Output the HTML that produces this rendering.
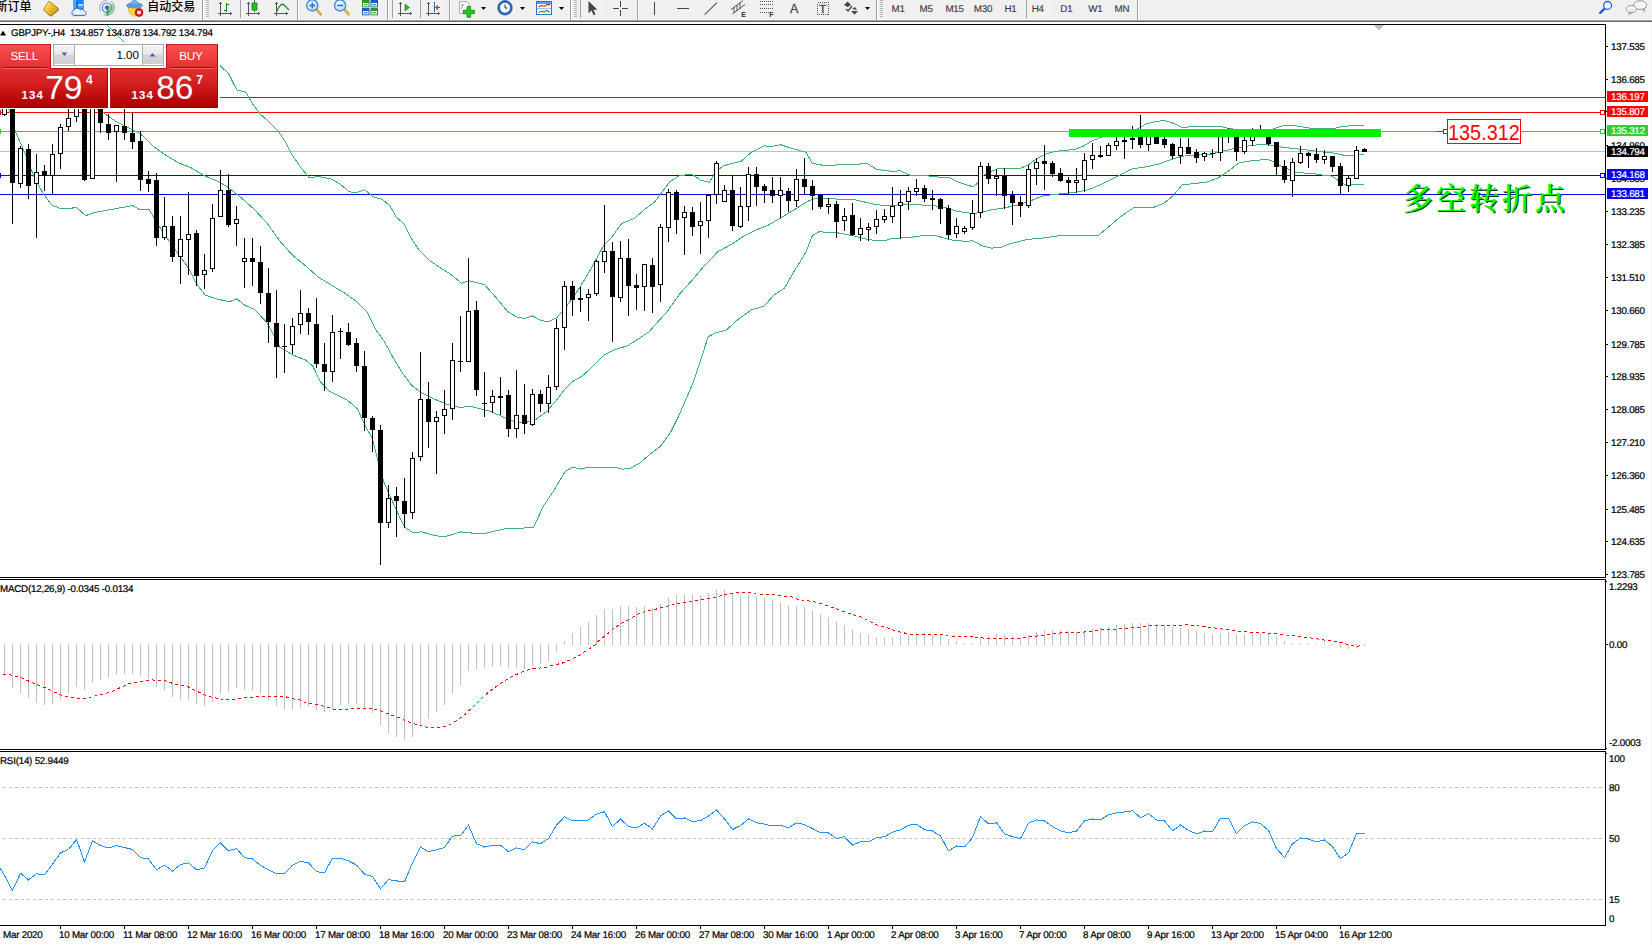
<!DOCTYPE html>
<html lang="zh"><head><meta charset="utf-8"><title>GBPJPY H4</title>
<style>
html,body{margin:0;padding:0}
body{width:1652px;height:945px;position:relative;overflow:hidden;background:#fff;font-family:"Liberation Sans","Noto Sans CJK SC",sans-serif}
#chart{position:absolute;left:0;top:0}
.ax{position:absolute;font-size:9.8px;line-height:12px;height:12px;color:#000;white-space:nowrap;letter-spacing:-0.23px;text-rendering:geometricPrecision;-webkit-text-stroke:0.22px #000}

.tag{position:absolute;left:1607px;width:41px;height:11px;color:#fff;font-size:9.8px;line-height:12px;white-space:nowrap;text-rendering:geometricPrecision}
.tag span{position:absolute;left:4px;top:1px;display:block;letter-spacing:-0.23px;-webkit-text-stroke:0.2px #fff}
#rb{position:absolute;left:1651px;top:22px;width:1px;height:923px;background:#f0f0f0}
#biglbl{position:absolute;left:1447px;top:119px;width:72px;height:23px;border:1px solid #ff0000;background:#fff;color:#ff0000;font-size:22.6px;line-height:23px;text-align:center;white-space:nowrap}
#biglbl span{position:absolute;left:0.3px;top:1px;display:block;transform:scaleX(0.88);transform-origin:0 0}
#cn{position:absolute;left:1403px;top:179px;font-family:"Liberation Serif","Noto Serif CJK SC",serif;font-weight:600;font-size:30px;line-height:40px;letter-spacing:3px;color:#00fa00;white-space:nowrap;text-shadow:1px 1px 0 #063806}
</style></head>
<body>
<svg id="chart" width="1652" height="945" viewBox="0 0 1652 945" shape-rendering="crispEdges">
<defs><clipPath id="mainclip"><rect x="0" y="25" width="1605" height="552"/></clipPath></defs>
<rect x="0" y="97" width="1605" height="1" fill="#ff0000" />
<rect x="0" y="112" width="1605" height="1" fill="#ff0000" />
<rect x="0" y="131" width="1605" height="1" fill="#32cd32" />
<rect x="0" y="151" width="1605" height="1" fill="#c0c0c0" />
<rect x="0" y="175" width="1605" height="1" fill="#0000ff" />
<rect x="0" y="194" width="1605" height="1" fill="#0000ff" />
<g clip-path="url(#mainclip)">
<polyline points="107.5,25.5 116.5,34.5 124.5,42.5 220.3,65.9 228.5,73.5 236.9,90.1 245.8,92.1 252.6,104.1 260.3,114.2 269.1,121.9 278.0,130.8 285.7,142.2 292.0,154.9 300.9,167.6 309.3,177.8 318.7,176.5 331.4,179.1 340.3,184.2 349.2,191.8 356.9,192.5 364.5,189.7 373.4,196.9 382.3,199.4 389.9,205.8 396.3,217.2 403.9,223.6 411.5,238.8 419.2,250.3 429.3,260.4 440.8,268.1 450.9,274.4 461.5,283.2 469.2,280.7 484.4,284.5 494.6,295.9 507.3,311.2 517.5,317.5 525.1,318.3 532.2,315.8 540.3,320.1 548.0,321.9 556.9,317.5 565.8,307.4 575.9,293.4 588.6,273.1 596.3,259.1 603.9,245.1 611.5,237.5 621.7,223.5 634.4,218.4 644.6,209.5 654.8,201.9 662.4,191.7 670.0,181.5 680.2,175.2 692.9,174.7 700.5,180.3 709.4,182.3 715.8,171.4 723.4,165.8 741.2,161.2 751.4,152.3 764.1,145.9 771.7,146.4 780.6,144.7 792.1,148.5 800.5,150.8 805.9,152.3 812.3,163.2 824.1,165.5 845.9,164.6 867.7,163.7 876.8,169.5 891.3,171.3 900.4,170.8 909.5,175.0 922.2,175.0 934.9,176.8 949.4,177.7 958.5,182.2 973.0,186.8 978.5,182.2 982.1,175.9 989.4,172.2 998.4,168.6 1018.4,169.0 1027.5,165.5 1036.6,158.6 1045.7,154.1 1054.7,151.4 1074.7,149.5 1083.8,145.9 1092.9,140.5 1100.1,137.7 1110.5,134.5 1125.5,132.0 1136.8,129.5 1145.9,124.1 1155.0,121.7 1164.0,120.5 1173.1,123.2 1182.2,127.7 1189.5,126.8 1222.1,126.8 1229.4,128.6 1240.5,130.0 1260.5,130.5 1273.0,129.2 1282.1,125.9 1294.8,125.6 1303.9,127.2 1314.7,129.0 1332.9,128.6 1343.8,126.3 1352.9,125.6 1364.3,125.6" fill="none" stroke="#3cb371" stroke-width="1" />
<polyline points="60.5,85.5 102.2,111.9 114.9,120.8 127.6,127.2 140.3,133.6 153.1,146.3 165.8,155.2 178.5,162.8 191.2,167.9 203.9,175.5 219.2,181.9 229.3,188.2 242.0,198.4 254.8,209.8 267.5,223.8 280.2,241.6 292.9,255.6 305.6,265.8 318.3,277.2 331.0,284.8 343.8,292.5 356.5,301.4 366.6,311.5 375.5,329.3 383.2,340.0 385.9,344.5 393.6,358.5 401.2,371.2 411.4,385.2 421.5,392.8 434.2,399.1 446.9,404.2 459.7,407.5 469.8,406.3 480.0,408.8 490.2,411.4 500.3,415.7 508.0,419.5 515.6,422.0 525.8,422.5 535.9,419.5 546.1,411.9 556.3,400.4 563.9,390.3 572.8,381.4 581.7,376.3 591.9,367.4 604.6,354.7 614.8,349.6 627.5,345.8 637.6,339.4 649.1,331.8 654.8,325.2 667.5,311.2 680.2,293.4 692.9,279.4 705.6,264.2 718.3,251.4 731.0,244.6 743.8,236.2 756.5,229.8 769.2,224.7 781.9,217.1 794.6,209.5 800.5,205.8 809.6,200.4 818.7,197.7 836.8,199.1 855.0,199.8 873.1,204.0 885.8,205.8 902.2,204.6 918.5,204.9 931.2,205.3 945.8,207.6 956.7,211.3 973.0,213.6 982.1,212.2 991.2,210.0 1005.7,207.6 1018.4,204.9 1029.3,201.3 1042.0,196.2 1054.7,194.4 1072.9,192.6 1085.6,190.4 1091.4,188.6 1104.1,183.1 1116.8,176.8 1131.3,169.1 1145.9,166.8 1158.6,164.1 1171.3,159.5 1182.2,156.2 1196.7,155.0 1211.2,154.1 1225.8,150.4 1236.7,148.1 1251.2,145.5 1263.9,144.1 1273.0,145.5 1282.1,147.2 1294.8,148.6 1307.5,150.1 1322.0,151.9 1334.7,153.2 1343.8,155.3 1351.1,155.9 1358.3,155.0 1364.3,154.6" fill="none" stroke="#3cb371" stroke-width="1" />
<polyline points="5.5,100.5 10.0,112.5 15.8,132.3 25.9,155.2 33.5,175.5 43.7,194.6 51.4,204.7 60.3,208.6 76.8,207.8 85.7,215.7 94.6,212.4 112.4,209.3 132.7,205.5 139.1,209.3 149.2,209.8 155.6,220.0 163.2,232.7 178.5,254.3 188.7,268.3 196.3,283.6 205.2,295.0 216.6,298.8 229.3,301.9 237.0,298.8 244.6,305.2 254.8,309.5 262.4,317.9 267.2,323.0 279.9,347.2 292.5,354.8 305.3,359.9 312.9,366.2 320.5,382.0 329.4,391.2 347.2,400.1 357.5,409.0 364.9,425.3 372.4,438.6 378.3,462.4 384.2,483.1 391.6,499.4 399.0,515.7 404.9,527.5 412.6,532.6 421.5,531.9 431.7,534.7 443.1,537.0 452.0,534.7 460.9,531.9 472.4,533.1 483.8,533.9 495.3,530.9 505.4,528.8 518.1,528.3 533.4,527.5 543.6,505.9 553.7,490.7 565.2,471.6 572.8,467.0 580.4,469.1 589.3,467.0 614.8,467.0 622.4,469.1 630.0,468.6 640.2,462.7 650.4,453.8 660.5,446.2 670.7,432.2 678.3,416.9 686.0,399.1 693.6,381.4 701.2,358.5 708.2,336.6 715.8,332.8 726.0,330.3 738.7,318.8 751.4,309.9 764.1,306.1 774.3,294.7 784.4,288.3 794.6,270.5 800.5,261.2 805.9,252.1 812.3,235.8 818.7,231.8 836.8,232.7 851.3,235.4 869.5,239.8 884.0,240.9 891.3,238.5 909.5,237.6 924.0,235.4 936.7,235.8 949.4,239.8 963.9,241.2 973.0,240.9 982.1,245.8 991.2,248.1 1000.2,247.6 1009.3,244.0 1027.5,239.4 1042.0,238.2 1058.4,235.8 1080.5,235.8 1098.7,235.2 1107.7,227.6 1120.4,216.7 1133.2,208.0 1153.1,207.6 1164.0,203.1 1173.1,195.8 1182.2,184.9 1193.1,183.7 1207.6,181.9 1218.5,177.7 1229.4,170.4 1238.5,163.1 1247.6,161.3 1258.5,160.1 1267.5,159.5 1273.0,161.3 1282.1,166.8 1291.1,170.4 1296.6,172.6 1312.9,173.5 1322.0,175.0 1329.3,175.0 1334.7,177.7 1340.2,182.2 1345.6,184.9 1364.3,184.6" fill="none" stroke="#3cb371" stroke-width="1" />
<rect x="4" y="100" width="1" height="16" fill="#000"/>
<rect x="2" y="100" width="5" height="15" fill="#000"/>
<rect x="3" y="101" width="3" height="13" fill="#fff"/>
<rect x="12" y="100" width="1" height="124" fill="#000"/>
<rect x="10" y="100" width="5" height="83" fill="#000"/>
<rect x="20" y="146" width="1" height="42" fill="#000"/>
<rect x="18" y="148" width="5" height="36" fill="#000"/>
<rect x="19" y="149" width="3" height="34" fill="#fff"/>
<rect x="28" y="144" width="1" height="55" fill="#000"/>
<rect x="26" y="149" width="5" height="37" fill="#000"/>
<rect x="36" y="154" width="1" height="84" fill="#000"/>
<rect x="34" y="172" width="5" height="12" fill="#000"/>
<rect x="35" y="173" width="3" height="10" fill="#fff"/>
<rect x="44" y="165" width="1" height="26" fill="#000"/>
<rect x="42" y="171" width="5" height="5" fill="#000"/>
<rect x="52" y="144" width="1" height="50" fill="#000"/>
<rect x="50" y="154" width="5" height="22" fill="#000"/>
<rect x="51" y="155" width="3" height="20" fill="#fff"/>
<rect x="60" y="124" width="1" height="45" fill="#000"/>
<rect x="58" y="127" width="5" height="27" fill="#000"/>
<rect x="59" y="128" width="3" height="25" fill="#fff"/>
<rect x="68" y="108" width="1" height="23" fill="#000"/>
<rect x="66" y="118" width="5" height="9" fill="#000"/>
<rect x="67" y="119" width="3" height="7" fill="#fff"/>
<rect x="76" y="100" width="1" height="22" fill="#000"/>
<rect x="74" y="100" width="5" height="17" fill="#000"/>
<rect x="75" y="101" width="3" height="15" fill="#fff"/>
<rect x="84" y="100" width="1" height="81" fill="#000"/>
<rect x="82" y="100" width="5" height="80" fill="#000"/>
<rect x="92" y="100" width="1" height="79" fill="#000"/>
<rect x="90" y="100" width="5" height="79" fill="#000"/>
<rect x="91" y="101" width="3" height="77" fill="#fff"/>
<rect x="100" y="100" width="1" height="33" fill="#000"/>
<rect x="98" y="100" width="5" height="23" fill="#000"/>
<rect x="108" y="114" width="1" height="26" fill="#000"/>
<rect x="106" y="124" width="5" height="9" fill="#000"/>
<rect x="116" y="125" width="1" height="57" fill="#000"/>
<rect x="114" y="125" width="5" height="7" fill="#000"/>
<rect x="115" y="126" width="3" height="5" fill="#fff"/>
<rect x="124" y="108" width="1" height="32" fill="#000"/>
<rect x="122" y="126" width="5" height="7" fill="#000"/>
<rect x="132" y="112" width="1" height="37" fill="#000"/>
<rect x="130" y="133" width="5" height="9" fill="#000"/>
<rect x="140" y="131" width="1" height="60" fill="#000"/>
<rect x="138" y="141" width="5" height="39" fill="#000"/>
<rect x="148" y="171" width="1" height="21" fill="#000"/>
<rect x="146" y="179" width="5" height="5" fill="#000"/>
<rect x="156" y="173" width="1" height="73" fill="#000"/>
<rect x="154" y="180" width="5" height="58" fill="#000"/>
<rect x="164" y="197" width="1" height="43" fill="#000"/>
<rect x="162" y="226" width="5" height="12" fill="#000"/>
<rect x="163" y="227" width="3" height="10" fill="#fff"/>
<rect x="172" y="216" width="1" height="46" fill="#000"/>
<rect x="170" y="226" width="5" height="31" fill="#000"/>
<rect x="180" y="216" width="1" height="68" fill="#000"/>
<rect x="178" y="239" width="5" height="18" fill="#000"/>
<rect x="179" y="240" width="3" height="16" fill="#fff"/>
<rect x="188" y="192" width="1" height="83" fill="#000"/>
<rect x="186" y="234" width="5" height="6" fill="#000"/>
<rect x="187" y="235" width="3" height="4" fill="#fff"/>
<rect x="196" y="230" width="1" height="56" fill="#000"/>
<rect x="194" y="233" width="5" height="43" fill="#000"/>
<rect x="204" y="254" width="1" height="35" fill="#000"/>
<rect x="202" y="270" width="5" height="5" fill="#000"/>
<rect x="203" y="271" width="3" height="3" fill="#fff"/>
<rect x="212" y="204" width="1" height="68" fill="#000"/>
<rect x="210" y="218" width="5" height="51" fill="#000"/>
<rect x="211" y="219" width="3" height="49" fill="#fff"/>
<rect x="220" y="170" width="1" height="47" fill="#000"/>
<rect x="218" y="190" width="5" height="27" fill="#000"/>
<rect x="219" y="191" width="3" height="25" fill="#fff"/>
<rect x="228" y="174" width="1" height="53" fill="#000"/>
<rect x="226" y="190" width="5" height="35" fill="#000"/>
<rect x="236" y="206" width="1" height="40" fill="#000"/>
<rect x="234" y="219" width="5" height="5" fill="#000"/>
<rect x="235" y="220" width="3" height="3" fill="#fff"/>
<rect x="244" y="238" width="1" height="50" fill="#000"/>
<rect x="242" y="258" width="5" height="4" fill="#000"/>
<rect x="243" y="259" width="3" height="2" fill="#fff"/>
<rect x="252" y="238" width="1" height="48" fill="#000"/>
<rect x="250" y="258" width="5" height="4" fill="#000"/>
<rect x="260" y="246" width="1" height="58" fill="#000"/>
<rect x="258" y="262" width="5" height="31" fill="#000"/>
<rect x="268" y="268" width="1" height="75" fill="#000"/>
<rect x="266" y="293" width="5" height="29" fill="#000"/>
<rect x="276" y="290" width="1" height="88" fill="#000"/>
<rect x="274" y="323" width="5" height="24" fill="#000"/>
<rect x="284" y="324" width="1" height="49" fill="#000"/>
<rect x="282" y="346" width="5" height="1" fill="#000"/>
<rect x="292" y="318" width="1" height="36" fill="#000"/>
<rect x="290" y="326" width="5" height="19" fill="#000"/>
<rect x="291" y="327" width="3" height="17" fill="#fff"/>
<rect x="300" y="290" width="1" height="44" fill="#000"/>
<rect x="298" y="313" width="5" height="12" fill="#000"/>
<rect x="299" y="314" width="3" height="10" fill="#fff"/>
<rect x="308" y="308" width="1" height="27" fill="#000"/>
<rect x="306" y="313" width="5" height="9" fill="#000"/>
<rect x="316" y="298" width="1" height="70" fill="#000"/>
<rect x="314" y="324" width="5" height="40" fill="#000"/>
<rect x="324" y="343" width="1" height="48" fill="#000"/>
<rect x="322" y="364" width="5" height="8" fill="#000"/>
<rect x="332" y="315" width="1" height="67" fill="#000"/>
<rect x="330" y="332" width="5" height="40" fill="#000"/>
<rect x="331" y="333" width="3" height="38" fill="#fff"/>
<rect x="340" y="328" width="1" height="31" fill="#000"/>
<rect x="338" y="331" width="5" height="1" fill="#000"/>
<rect x="348" y="323" width="1" height="23" fill="#000"/>
<rect x="346" y="332" width="5" height="13" fill="#000"/>
<rect x="356" y="338" width="1" height="34" fill="#000"/>
<rect x="354" y="343" width="5" height="23" fill="#000"/>
<rect x="364" y="351" width="1" height="80" fill="#000"/>
<rect x="362" y="366" width="5" height="52" fill="#000"/>
<rect x="372" y="416" width="1" height="36" fill="#000"/>
<rect x="370" y="418" width="5" height="12" fill="#000"/>
<rect x="380" y="425" width="1" height="140" fill="#000"/>
<rect x="378" y="430" width="5" height="93" fill="#000"/>
<rect x="388" y="485" width="1" height="43" fill="#000"/>
<rect x="386" y="498" width="5" height="25" fill="#000"/>
<rect x="387" y="499" width="3" height="23" fill="#fff"/>
<rect x="396" y="487" width="1" height="50" fill="#000"/>
<rect x="394" y="496" width="5" height="5" fill="#000"/>
<rect x="404" y="478" width="1" height="50" fill="#000"/>
<rect x="402" y="501" width="5" height="13" fill="#000"/>
<rect x="412" y="452" width="1" height="67" fill="#000"/>
<rect x="410" y="458" width="5" height="55" fill="#000"/>
<rect x="411" y="459" width="3" height="53" fill="#fff"/>
<rect x="420" y="352" width="1" height="109" fill="#000"/>
<rect x="418" y="399" width="5" height="58" fill="#000"/>
<rect x="419" y="400" width="3" height="56" fill="#fff"/>
<rect x="428" y="382" width="1" height="66" fill="#000"/>
<rect x="426" y="399" width="5" height="23" fill="#000"/>
<rect x="436" y="411" width="1" height="63" fill="#000"/>
<rect x="434" y="417" width="5" height="5" fill="#000"/>
<rect x="435" y="418" width="3" height="3" fill="#fff"/>
<rect x="444" y="390" width="1" height="44" fill="#000"/>
<rect x="442" y="409" width="5" height="7" fill="#000"/>
<rect x="443" y="410" width="3" height="5" fill="#fff"/>
<rect x="452" y="343" width="1" height="77" fill="#000"/>
<rect x="450" y="360" width="5" height="49" fill="#000"/>
<rect x="451" y="361" width="3" height="47" fill="#fff"/>
<rect x="460" y="316" width="1" height="56" fill="#000"/>
<rect x="458" y="361" width="5" height="1" fill="#000"/>
<rect x="468" y="258" width="1" height="104" fill="#000"/>
<rect x="466" y="311" width="5" height="51" fill="#000"/>
<rect x="467" y="312" width="3" height="49" fill="#fff"/>
<rect x="476" y="301" width="1" height="95" fill="#000"/>
<rect x="474" y="310" width="5" height="80" fill="#000"/>
<rect x="484" y="372" width="1" height="45" fill="#000"/>
<rect x="482" y="403" width="5" height="1" fill="#000"/>
<rect x="492" y="390" width="1" height="23" fill="#000"/>
<rect x="490" y="396" width="5" height="7" fill="#000"/>
<rect x="491" y="397" width="3" height="5" fill="#fff"/>
<rect x="500" y="377" width="1" height="38" fill="#000"/>
<rect x="498" y="396" width="5" height="2" fill="#000"/>
<rect x="508" y="390" width="1" height="47" fill="#000"/>
<rect x="506" y="395" width="5" height="34" fill="#000"/>
<rect x="516" y="370" width="1" height="68" fill="#000"/>
<rect x="514" y="415" width="5" height="14" fill="#000"/>
<rect x="515" y="416" width="3" height="12" fill="#fff"/>
<rect x="524" y="384" width="1" height="50" fill="#000"/>
<rect x="522" y="415" width="5" height="9" fill="#000"/>
<rect x="532" y="389" width="1" height="37" fill="#000"/>
<rect x="530" y="394" width="5" height="31" fill="#000"/>
<rect x="531" y="395" width="3" height="29" fill="#fff"/>
<rect x="540" y="390" width="1" height="22" fill="#000"/>
<rect x="538" y="394" width="5" height="10" fill="#000"/>
<rect x="548" y="375" width="1" height="38" fill="#000"/>
<rect x="546" y="387" width="5" height="17" fill="#000"/>
<rect x="547" y="388" width="3" height="15" fill="#fff"/>
<rect x="556" y="319" width="1" height="71" fill="#000"/>
<rect x="554" y="328" width="5" height="59" fill="#000"/>
<rect x="555" y="329" width="3" height="57" fill="#fff"/>
<rect x="564" y="281" width="1" height="69" fill="#000"/>
<rect x="562" y="286" width="5" height="42" fill="#000"/>
<rect x="563" y="287" width="3" height="40" fill="#fff"/>
<rect x="572" y="281" width="1" height="35" fill="#000"/>
<rect x="570" y="286" width="5" height="14" fill="#000"/>
<rect x="580" y="287" width="1" height="25" fill="#000"/>
<rect x="578" y="298" width="5" height="2" fill="#000"/>
<rect x="588" y="289" width="1" height="32" fill="#000"/>
<rect x="586" y="294" width="5" height="4" fill="#000"/>
<rect x="587" y="295" width="3" height="2" fill="#fff"/>
<rect x="596" y="260" width="1" height="36" fill="#000"/>
<rect x="594" y="261" width="5" height="33" fill="#000"/>
<rect x="595" y="262" width="3" height="31" fill="#fff"/>
<rect x="604" y="205" width="1" height="68" fill="#000"/>
<rect x="602" y="251" width="5" height="11" fill="#000"/>
<rect x="603" y="252" width="3" height="9" fill="#fff"/>
<rect x="612" y="242" width="1" height="100" fill="#000"/>
<rect x="610" y="251" width="5" height="46" fill="#000"/>
<rect x="620" y="241" width="1" height="61" fill="#000"/>
<rect x="618" y="258" width="5" height="40" fill="#000"/>
<rect x="619" y="259" width="3" height="38" fill="#fff"/>
<rect x="628" y="239" width="1" height="77" fill="#000"/>
<rect x="626" y="258" width="5" height="28" fill="#000"/>
<rect x="636" y="274" width="1" height="36" fill="#000"/>
<rect x="634" y="285" width="5" height="3" fill="#000"/>
<rect x="644" y="264" width="1" height="47" fill="#000"/>
<rect x="642" y="264" width="5" height="23" fill="#000"/>
<rect x="643" y="265" width="3" height="21" fill="#fff"/>
<rect x="652" y="258" width="1" height="55" fill="#000"/>
<rect x="650" y="265" width="5" height="22" fill="#000"/>
<rect x="660" y="224" width="1" height="78" fill="#000"/>
<rect x="658" y="227" width="5" height="58" fill="#000"/>
<rect x="659" y="228" width="3" height="56" fill="#fff"/>
<rect x="668" y="189" width="1" height="53" fill="#000"/>
<rect x="666" y="192" width="5" height="36" fill="#000"/>
<rect x="667" y="193" width="3" height="34" fill="#fff"/>
<rect x="676" y="190" width="1" height="44" fill="#000"/>
<rect x="674" y="192" width="5" height="28" fill="#000"/>
<rect x="684" y="206" width="1" height="49" fill="#000"/>
<rect x="682" y="212" width="5" height="6" fill="#000"/>
<rect x="683" y="213" width="3" height="4" fill="#fff"/>
<rect x="692" y="207" width="1" height="29" fill="#000"/>
<rect x="690" y="212" width="5" height="15" fill="#000"/>
<rect x="700" y="202" width="1" height="52" fill="#000"/>
<rect x="698" y="221" width="5" height="5" fill="#000"/>
<rect x="699" y="222" width="3" height="3" fill="#fff"/>
<rect x="708" y="194" width="1" height="44" fill="#000"/>
<rect x="706" y="195" width="5" height="26" fill="#000"/>
<rect x="707" y="196" width="3" height="24" fill="#fff"/>
<rect x="716" y="161" width="1" height="43" fill="#000"/>
<rect x="714" y="163" width="5" height="32" fill="#000"/>
<rect x="715" y="164" width="3" height="30" fill="#fff"/>
<rect x="724" y="185" width="1" height="17" fill="#000"/>
<rect x="722" y="190" width="5" height="12" fill="#000"/>
<rect x="723" y="191" width="3" height="10" fill="#fff"/>
<rect x="732" y="175" width="1" height="56" fill="#000"/>
<rect x="730" y="190" width="5" height="36" fill="#000"/>
<rect x="740" y="187" width="1" height="41" fill="#000"/>
<rect x="738" y="206" width="5" height="21" fill="#000"/>
<rect x="739" y="207" width="3" height="19" fill="#fff"/>
<rect x="748" y="167" width="1" height="54" fill="#000"/>
<rect x="746" y="174" width="5" height="33" fill="#000"/>
<rect x="747" y="175" width="3" height="31" fill="#fff"/>
<rect x="756" y="167" width="1" height="39" fill="#000"/>
<rect x="754" y="174" width="5" height="13" fill="#000"/>
<rect x="764" y="184" width="1" height="19" fill="#000"/>
<rect x="762" y="186" width="5" height="5" fill="#000"/>
<rect x="772" y="177" width="1" height="26" fill="#000"/>
<rect x="770" y="190" width="5" height="6" fill="#000"/>
<rect x="780" y="177" width="1" height="41" fill="#000"/>
<rect x="778" y="190" width="5" height="6" fill="#000"/>
<rect x="779" y="191" width="3" height="4" fill="#fff"/>
<rect x="788" y="188" width="1" height="24" fill="#000"/>
<rect x="786" y="191" width="5" height="10" fill="#000"/>
<rect x="796" y="169" width="1" height="38" fill="#000"/>
<rect x="794" y="179" width="5" height="22" fill="#000"/>
<rect x="795" y="180" width="3" height="20" fill="#fff"/>
<rect x="804" y="158" width="1" height="37" fill="#000"/>
<rect x="802" y="179" width="5" height="8" fill="#000"/>
<rect x="812" y="180" width="1" height="30" fill="#000"/>
<rect x="810" y="186" width="5" height="10" fill="#000"/>
<rect x="820" y="194" width="1" height="15" fill="#000"/>
<rect x="818" y="195" width="5" height="12" fill="#000"/>
<rect x="828" y="198" width="1" height="16" fill="#000"/>
<rect x="826" y="204" width="5" height="3" fill="#000"/>
<rect x="827" y="205" width="3" height="1" fill="#fff"/>
<rect x="836" y="201" width="1" height="37" fill="#000"/>
<rect x="834" y="204" width="5" height="18" fill="#000"/>
<rect x="844" y="208" width="1" height="23" fill="#000"/>
<rect x="842" y="216" width="5" height="5" fill="#000"/>
<rect x="843" y="217" width="3" height="3" fill="#fff"/>
<rect x="852" y="203" width="1" height="33" fill="#000"/>
<rect x="850" y="215" width="5" height="20" fill="#000"/>
<rect x="860" y="218" width="1" height="23" fill="#000"/>
<rect x="858" y="228" width="5" height="7" fill="#000"/>
<rect x="859" y="229" width="3" height="5" fill="#fff"/>
<rect x="868" y="223" width="1" height="18" fill="#000"/>
<rect x="866" y="227" width="5" height="3" fill="#000"/>
<rect x="867" y="228" width="3" height="1" fill="#fff"/>
<rect x="876" y="210" width="1" height="24" fill="#000"/>
<rect x="874" y="219" width="5" height="8" fill="#000"/>
<rect x="875" y="220" width="3" height="6" fill="#fff"/>
<rect x="884" y="209" width="1" height="14" fill="#000"/>
<rect x="882" y="216" width="5" height="4" fill="#000"/>
<rect x="883" y="217" width="3" height="2" fill="#fff"/>
<rect x="892" y="187" width="1" height="36" fill="#000"/>
<rect x="890" y="206" width="5" height="11" fill="#000"/>
<rect x="891" y="207" width="3" height="9" fill="#fff"/>
<rect x="900" y="190" width="1" height="49" fill="#000"/>
<rect x="898" y="202" width="5" height="4" fill="#000"/>
<rect x="899" y="203" width="3" height="2" fill="#fff"/>
<rect x="908" y="187" width="1" height="23" fill="#000"/>
<rect x="906" y="191" width="5" height="11" fill="#000"/>
<rect x="907" y="192" width="3" height="9" fill="#fff"/>
<rect x="916" y="179" width="1" height="17" fill="#000"/>
<rect x="914" y="188" width="5" height="4" fill="#000"/>
<rect x="915" y="189" width="3" height="2" fill="#fff"/>
<rect x="924" y="185" width="1" height="17" fill="#000"/>
<rect x="922" y="188" width="5" height="11" fill="#000"/>
<rect x="932" y="190" width="1" height="20" fill="#000"/>
<rect x="930" y="198" width="5" height="2" fill="#000"/>
<rect x="940" y="198" width="1" height="26" fill="#000"/>
<rect x="938" y="199" width="5" height="10" fill="#000"/>
<rect x="948" y="205" width="1" height="34" fill="#000"/>
<rect x="946" y="208" width="5" height="27" fill="#000"/>
<rect x="956" y="218" width="1" height="20" fill="#000"/>
<rect x="954" y="226" width="5" height="8" fill="#000"/>
<rect x="955" y="227" width="3" height="6" fill="#fff"/>
<rect x="964" y="226" width="1" height="8" fill="#000"/>
<rect x="962" y="228" width="5" height="4" fill="#000"/>
<rect x="963" y="229" width="3" height="2" fill="#fff"/>
<rect x="972" y="200" width="1" height="30" fill="#000"/>
<rect x="970" y="213" width="5" height="15" fill="#000"/>
<rect x="971" y="214" width="3" height="13" fill="#fff"/>
<rect x="980" y="162" width="1" height="56" fill="#000"/>
<rect x="978" y="166" width="5" height="47" fill="#000"/>
<rect x="979" y="167" width="3" height="45" fill="#fff"/>
<rect x="988" y="163" width="1" height="21" fill="#000"/>
<rect x="986" y="166" width="5" height="13" fill="#000"/>
<rect x="996" y="169" width="1" height="27" fill="#000"/>
<rect x="994" y="176" width="5" height="3" fill="#000"/>
<rect x="995" y="177" width="3" height="1" fill="#fff"/>
<rect x="1004" y="168" width="1" height="41" fill="#000"/>
<rect x="1002" y="176" width="5" height="20" fill="#000"/>
<rect x="1012" y="191" width="1" height="34" fill="#000"/>
<rect x="1010" y="195" width="5" height="8" fill="#000"/>
<rect x="1020" y="196" width="1" height="21" fill="#000"/>
<rect x="1018" y="202" width="5" height="4" fill="#000"/>
<rect x="1028" y="165" width="1" height="43" fill="#000"/>
<rect x="1026" y="169" width="5" height="37" fill="#000"/>
<rect x="1027" y="170" width="3" height="35" fill="#fff"/>
<rect x="1036" y="158" width="1" height="27" fill="#000"/>
<rect x="1034" y="162" width="5" height="7" fill="#000"/>
<rect x="1035" y="163" width="3" height="5" fill="#fff"/>
<rect x="1044" y="145" width="1" height="45" fill="#000"/>
<rect x="1042" y="161" width="5" height="3" fill="#000"/>
<rect x="1052" y="161" width="1" height="16" fill="#000"/>
<rect x="1050" y="163" width="5" height="11" fill="#000"/>
<rect x="1060" y="168" width="1" height="14" fill="#000"/>
<rect x="1058" y="173" width="5" height="8" fill="#000"/>
<rect x="1068" y="177" width="1" height="18" fill="#000"/>
<rect x="1066" y="180" width="5" height="3" fill="#000"/>
<rect x="1076" y="168" width="1" height="25" fill="#000"/>
<rect x="1074" y="180" width="5" height="3" fill="#000"/>
<rect x="1075" y="181" width="3" height="1" fill="#fff"/>
<rect x="1084" y="153" width="1" height="39" fill="#000"/>
<rect x="1082" y="160" width="5" height="20" fill="#000"/>
<rect x="1083" y="161" width="3" height="18" fill="#fff"/>
<rect x="1092" y="143" width="1" height="26" fill="#000"/>
<rect x="1090" y="155" width="5" height="5" fill="#000"/>
<rect x="1091" y="156" width="3" height="3" fill="#fff"/>
<rect x="1100" y="146" width="1" height="12" fill="#000"/>
<rect x="1098" y="155" width="5" height="2" fill="#000"/>
<rect x="1108" y="143" width="1" height="13" fill="#000"/>
<rect x="1106" y="145" width="5" height="11" fill="#000"/>
<rect x="1107" y="146" width="3" height="9" fill="#fff"/>
<rect x="1116" y="133" width="1" height="17" fill="#000"/>
<rect x="1114" y="141" width="5" height="5" fill="#000"/>
<rect x="1115" y="142" width="3" height="3" fill="#fff"/>
<rect x="1124" y="133" width="1" height="26" fill="#000"/>
<rect x="1122" y="140" width="5" height="2" fill="#000"/>
<rect x="1132" y="126" width="1" height="23" fill="#000"/>
<rect x="1130" y="138" width="5" height="2" fill="#000"/>
<rect x="1140" y="115" width="1" height="33" fill="#000"/>
<rect x="1138" y="135" width="5" height="10" fill="#000"/>
<rect x="1148" y="133" width="1" height="18" fill="#000"/>
<rect x="1146" y="134" width="5" height="11" fill="#000"/>
<rect x="1147" y="135" width="3" height="9" fill="#fff"/>
<rect x="1156" y="133" width="1" height="11" fill="#000"/>
<rect x="1154" y="134" width="5" height="10" fill="#000"/>
<rect x="1164" y="133" width="1" height="15" fill="#000"/>
<rect x="1162" y="139" width="5" height="6" fill="#000"/>
<rect x="1172" y="143" width="1" height="16" fill="#000"/>
<rect x="1170" y="144" width="5" height="12" fill="#000"/>
<rect x="1180" y="138" width="1" height="26" fill="#000"/>
<rect x="1178" y="147" width="5" height="9" fill="#000"/>
<rect x="1179" y="148" width="3" height="7" fill="#fff"/>
<rect x="1188" y="138" width="1" height="16" fill="#000"/>
<rect x="1186" y="147" width="5" height="7" fill="#000"/>
<rect x="1196" y="149" width="1" height="14" fill="#000"/>
<rect x="1194" y="152" width="5" height="6" fill="#000"/>
<rect x="1204" y="152" width="1" height="9" fill="#000"/>
<rect x="1202" y="153" width="5" height="4" fill="#000"/>
<rect x="1203" y="154" width="3" height="2" fill="#fff"/>
<rect x="1212" y="149" width="1" height="9" fill="#000"/>
<rect x="1210" y="153" width="5" height="1" fill="#000"/>
<rect x="1220" y="133" width="1" height="28" fill="#000"/>
<rect x="1218" y="134" width="5" height="19" fill="#000"/>
<rect x="1219" y="135" width="3" height="17" fill="#fff"/>
<rect x="1228" y="128" width="1" height="15" fill="#000"/>
<rect x="1226" y="131" width="5" height="4" fill="#000"/>
<rect x="1236" y="133" width="1" height="28" fill="#000"/>
<rect x="1234" y="134" width="5" height="18" fill="#000"/>
<rect x="1244" y="136" width="1" height="18" fill="#000"/>
<rect x="1242" y="140" width="5" height="12" fill="#000"/>
<rect x="1243" y="141" width="3" height="10" fill="#fff"/>
<rect x="1252" y="128" width="1" height="18" fill="#000"/>
<rect x="1250" y="134" width="5" height="7" fill="#000"/>
<rect x="1251" y="135" width="3" height="5" fill="#fff"/>
<rect x="1260" y="125" width="1" height="10" fill="#000"/>
<rect x="1258" y="133" width="5" height="1" fill="#000"/>
<rect x="1268" y="133" width="1" height="13" fill="#000"/>
<rect x="1266" y="134" width="5" height="10" fill="#000"/>
<rect x="1276" y="142" width="1" height="34" fill="#000"/>
<rect x="1274" y="142" width="5" height="25" fill="#000"/>
<rect x="1284" y="160" width="1" height="23" fill="#000"/>
<rect x="1282" y="166" width="5" height="14" fill="#000"/>
<rect x="1292" y="158" width="1" height="39" fill="#000"/>
<rect x="1290" y="162" width="5" height="19" fill="#000"/>
<rect x="1291" y="163" width="3" height="17" fill="#fff"/>
<rect x="1300" y="146" width="1" height="18" fill="#000"/>
<rect x="1298" y="153" width="5" height="10" fill="#000"/>
<rect x="1299" y="154" width="3" height="8" fill="#fff"/>
<rect x="1308" y="152" width="1" height="16" fill="#000"/>
<rect x="1306" y="153" width="5" height="3" fill="#000"/>
<rect x="1316" y="148" width="1" height="15" fill="#000"/>
<rect x="1314" y="154" width="5" height="6" fill="#000"/>
<rect x="1324" y="150" width="1" height="14" fill="#000"/>
<rect x="1322" y="156" width="5" height="4" fill="#000"/>
<rect x="1323" y="157" width="3" height="2" fill="#fff"/>
<rect x="1332" y="156" width="1" height="16" fill="#000"/>
<rect x="1330" y="156" width="5" height="11" fill="#000"/>
<rect x="1340" y="163" width="1" height="31" fill="#000"/>
<rect x="1338" y="166" width="5" height="20" fill="#000"/>
<rect x="1348" y="176" width="1" height="16" fill="#000"/>
<rect x="1346" y="178" width="5" height="8" fill="#000"/>
<rect x="1347" y="179" width="3" height="6" fill="#fff"/>
<rect x="1356" y="146" width="1" height="33" fill="#000"/>
<rect x="1354" y="150" width="5" height="29" fill="#000"/>
<rect x="1355" y="151" width="3" height="27" fill="#fff"/>
<rect x="1364" y="148" width="1" height="4" fill="#000"/>
<rect x="1362" y="149" width="5" height="3" fill="#000"/>
</g>
<rect x="1069" y="129" width="312" height="8" fill="#00f000"/>
<rect x="1600" y="110" width="5" height="5" fill="#ff0000"/>
<rect x="1601" y="111" width="3" height="3" fill="#fff"/>
<rect x="0" y="110" width="1" height="5" fill="#ff0000"/>
<rect x="1600" y="129" width="5" height="5" fill="#32cd32"/>
<rect x="1601" y="130" width="3" height="3" fill="#fff"/>
<rect x="0" y="129" width="1" height="5" fill="#32cd32"/>
<rect x="1600" y="173" width="5" height="5" fill="#0000ff"/>
<rect x="1601" y="174" width="3" height="3" fill="#fff"/>
<rect x="0" y="173" width="1" height="5" fill="#0000ff"/>
<rect x="1437" y="131" width="10" height="1" fill="#ff0000" />
<rect x="1443" y="129" width="5" height="5" fill="#ff0000"/><rect x="1444" y="130" width="3" height="3" fill="#fff"/>
<rect x="4" y="644" width="1" height="32" fill="#c0c0c0"/>
<rect x="12" y="644" width="1" height="44" fill="#c0c0c0"/>
<rect x="20" y="644" width="1" height="49" fill="#c0c0c0"/>
<rect x="28" y="644" width="1" height="54" fill="#c0c0c0"/>
<rect x="36" y="644" width="1" height="59" fill="#c0c0c0"/>
<rect x="44" y="644" width="1" height="61" fill="#c0c0c0"/>
<rect x="52" y="644" width="1" height="60" fill="#c0c0c0"/>
<rect x="60" y="644" width="1" height="56" fill="#c0c0c0"/>
<rect x="68" y="644" width="1" height="50" fill="#c0c0c0"/>
<rect x="76" y="644" width="1" height="43" fill="#c0c0c0"/>
<rect x="84" y="644" width="1" height="46" fill="#c0c0c0"/>
<rect x="92" y="644" width="1" height="39" fill="#c0c0c0"/>
<rect x="100" y="644" width="1" height="36" fill="#c0c0c0"/>
<rect x="108" y="644" width="1" height="34" fill="#c0c0c0"/>
<rect x="116" y="644" width="1" height="31" fill="#c0c0c0"/>
<rect x="124" y="644" width="1" height="30" fill="#c0c0c0"/>
<rect x="132" y="644" width="1" height="30" fill="#c0c0c0"/>
<rect x="140" y="644" width="1" height="32" fill="#c0c0c0"/>
<rect x="148" y="644" width="1" height="35" fill="#c0c0c0"/>
<rect x="156" y="644" width="1" height="43" fill="#c0c0c0"/>
<rect x="164" y="644" width="1" height="47" fill="#c0c0c0"/>
<rect x="172" y="644" width="1" height="53" fill="#c0c0c0"/>
<rect x="180" y="644" width="1" height="56" fill="#c0c0c0"/>
<rect x="188" y="644" width="1" height="56" fill="#c0c0c0"/>
<rect x="196" y="644" width="1" height="60" fill="#c0c0c0"/>
<rect x="204" y="644" width="1" height="62" fill="#c0c0c0"/>
<rect x="212" y="644" width="1" height="58" fill="#c0c0c0"/>
<rect x="220" y="644" width="1" height="50" fill="#c0c0c0"/>
<rect x="228" y="644" width="1" height="48" fill="#c0c0c0"/>
<rect x="236" y="644" width="1" height="44" fill="#c0c0c0"/>
<rect x="244" y="644" width="1" height="46" fill="#c0c0c0"/>
<rect x="252" y="644" width="1" height="47" fill="#c0c0c0"/>
<rect x="260" y="644" width="1" height="50" fill="#c0c0c0"/>
<rect x="268" y="644" width="1" height="56" fill="#c0c0c0"/>
<rect x="276" y="644" width="1" height="62" fill="#c0c0c0"/>
<rect x="284" y="644" width="1" height="66" fill="#c0c0c0"/>
<rect x="292" y="644" width="1" height="66" fill="#c0c0c0"/>
<rect x="300" y="644" width="1" height="64" fill="#c0c0c0"/>
<rect x="308" y="644" width="1" height="63" fill="#c0c0c0"/>
<rect x="316" y="644" width="1" height="66" fill="#c0c0c0"/>
<rect x="324" y="644" width="1" height="68" fill="#c0c0c0"/>
<rect x="332" y="644" width="1" height="65" fill="#c0c0c0"/>
<rect x="340" y="644" width="1" height="61" fill="#c0c0c0"/>
<rect x="348" y="644" width="1" height="60" fill="#c0c0c0"/>
<rect x="356" y="644" width="1" height="60" fill="#c0c0c0"/>
<rect x="364" y="644" width="1" height="64" fill="#c0c0c0"/>
<rect x="372" y="644" width="1" height="69" fill="#c0c0c0"/>
<rect x="380" y="644" width="1" height="81" fill="#c0c0c0"/>
<rect x="388" y="644" width="1" height="89" fill="#c0c0c0"/>
<rect x="396" y="644" width="1" height="93" fill="#c0c0c0"/>
<rect x="404" y="644" width="1" height="96" fill="#c0c0c0"/>
<rect x="412" y="644" width="1" height="93" fill="#c0c0c0"/>
<rect x="420" y="644" width="1" height="81" fill="#c0c0c0"/>
<rect x="428" y="644" width="1" height="75" fill="#c0c0c0"/>
<rect x="436" y="644" width="1" height="68" fill="#c0c0c0"/>
<rect x="444" y="644" width="1" height="61" fill="#c0c0c0"/>
<rect x="452" y="644" width="1" height="50" fill="#c0c0c0"/>
<rect x="460" y="644" width="1" height="41" fill="#c0c0c0"/>
<rect x="468" y="644" width="1" height="27" fill="#c0c0c0"/>
<rect x="476" y="644" width="1" height="25" fill="#c0c0c0"/>
<rect x="484" y="644" width="1" height="24" fill="#c0c0c0"/>
<rect x="492" y="644" width="1" height="23" fill="#c0c0c0"/>
<rect x="500" y="644" width="1" height="22" fill="#c0c0c0"/>
<rect x="508" y="644" width="1" height="24" fill="#c0c0c0"/>
<rect x="516" y="644" width="1" height="24" fill="#c0c0c0"/>
<rect x="524" y="644" width="1" height="25" fill="#c0c0c0"/>
<rect x="532" y="644" width="1" height="22" fill="#c0c0c0"/>
<rect x="540" y="644" width="1" height="20" fill="#c0c0c0"/>
<rect x="548" y="644" width="1" height="17" fill="#c0c0c0"/>
<rect x="556" y="644" width="1" height="8" fill="#c0c0c0"/>
<rect x="564" y="641" width="1" height="4" fill="#c0c0c0"/>
<rect x="572" y="633" width="1" height="12" fill="#c0c0c0"/>
<rect x="580" y="627" width="1" height="18" fill="#c0c0c0"/>
<rect x="588" y="622" width="1" height="23" fill="#c0c0c0"/>
<rect x="596" y="615" width="1" height="30" fill="#c0c0c0"/>
<rect x="604" y="609" width="1" height="36" fill="#c0c0c0"/>
<rect x="612" y="609" width="1" height="36" fill="#c0c0c0"/>
<rect x="620" y="606" width="1" height="39" fill="#c0c0c0"/>
<rect x="628" y="606" width="1" height="39" fill="#c0c0c0"/>
<rect x="636" y="607" width="1" height="38" fill="#c0c0c0"/>
<rect x="644" y="606" width="1" height="39" fill="#c0c0c0"/>
<rect x="652" y="608" width="1" height="37" fill="#c0c0c0"/>
<rect x="660" y="604" width="1" height="41" fill="#c0c0c0"/>
<rect x="668" y="597" width="1" height="48" fill="#c0c0c0"/>
<rect x="676" y="595" width="1" height="50" fill="#c0c0c0"/>
<rect x="684" y="594" width="1" height="51" fill="#c0c0c0"/>
<rect x="692" y="594" width="1" height="51" fill="#c0c0c0"/>
<rect x="700" y="595" width="1" height="50" fill="#c0c0c0"/>
<rect x="708" y="593" width="1" height="52" fill="#c0c0c0"/>
<rect x="716" y="589" width="1" height="56" fill="#c0c0c0"/>
<rect x="724" y="589" width="1" height="56" fill="#c0c0c0"/>
<rect x="732" y="594" width="1" height="51" fill="#c0c0c0"/>
<rect x="740" y="596" width="1" height="49" fill="#c0c0c0"/>
<rect x="748" y="595" width="1" height="50" fill="#c0c0c0"/>
<rect x="756" y="596" width="1" height="49" fill="#c0c0c0"/>
<rect x="764" y="598" width="1" height="47" fill="#c0c0c0"/>
<rect x="772" y="600" width="1" height="45" fill="#c0c0c0"/>
<rect x="780" y="602" width="1" height="43" fill="#c0c0c0"/>
<rect x="788" y="605" width="1" height="40" fill="#c0c0c0"/>
<rect x="796" y="606" width="1" height="39" fill="#c0c0c0"/>
<rect x="804" y="607" width="1" height="38" fill="#c0c0c0"/>
<rect x="812" y="610" width="1" height="35" fill="#c0c0c0"/>
<rect x="820" y="614" width="1" height="31" fill="#c0c0c0"/>
<rect x="828" y="617" width="1" height="28" fill="#c0c0c0"/>
<rect x="836" y="621" width="1" height="24" fill="#c0c0c0"/>
<rect x="844" y="625" width="1" height="20" fill="#c0c0c0"/>
<rect x="852" y="629" width="1" height="16" fill="#c0c0c0"/>
<rect x="860" y="633" width="1" height="12" fill="#c0c0c0"/>
<rect x="868" y="635" width="1" height="10" fill="#c0c0c0"/>
<rect x="876" y="637" width="1" height="8" fill="#c0c0c0"/>
<rect x="884" y="637" width="1" height="8" fill="#c0c0c0"/>
<rect x="892" y="637" width="1" height="8" fill="#c0c0c0"/>
<rect x="900" y="636" width="1" height="9" fill="#c0c0c0"/>
<rect x="908" y="635" width="1" height="10" fill="#c0c0c0"/>
<rect x="916" y="633" width="1" height="12" fill="#c0c0c0"/>
<rect x="924" y="633" width="1" height="12" fill="#c0c0c0"/>
<rect x="932" y="635" width="1" height="10" fill="#c0c0c0"/>
<rect x="940" y="635" width="1" height="10" fill="#c0c0c0"/>
<rect x="948" y="639" width="1" height="6" fill="#c0c0c0"/>
<rect x="956" y="641" width="1" height="4" fill="#c0c0c0"/>
<rect x="964" y="643" width="1" height="2" fill="#c0c0c0"/>
<rect x="972" y="643" width="1" height="2" fill="#c0c0c0"/>
<rect x="980" y="637" width="1" height="8" fill="#c0c0c0"/>
<rect x="988" y="636" width="1" height="9" fill="#c0c0c0"/>
<rect x="996" y="634" width="1" height="11" fill="#c0c0c0"/>
<rect x="1004" y="634" width="1" height="11" fill="#c0c0c0"/>
<rect x="1012" y="636" width="1" height="9" fill="#c0c0c0"/>
<rect x="1020" y="637" width="1" height="8" fill="#c0c0c0"/>
<rect x="1028" y="635" width="1" height="10" fill="#c0c0c0"/>
<rect x="1036" y="632" width="1" height="13" fill="#c0c0c0"/>
<rect x="1044" y="630" width="1" height="15" fill="#c0c0c0"/>
<rect x="1052" y="630" width="1" height="15" fill="#c0c0c0"/>
<rect x="1060" y="630" width="1" height="15" fill="#c0c0c0"/>
<rect x="1068" y="631" width="1" height="14" fill="#c0c0c0"/>
<rect x="1076" y="632" width="1" height="13" fill="#c0c0c0"/>
<rect x="1084" y="631" width="1" height="14" fill="#c0c0c0"/>
<rect x="1092" y="629" width="1" height="16" fill="#c0c0c0"/>
<rect x="1100" y="628" width="1" height="17" fill="#c0c0c0"/>
<rect x="1108" y="627" width="1" height="18" fill="#c0c0c0"/>
<rect x="1116" y="625" width="1" height="20" fill="#c0c0c0"/>
<rect x="1124" y="624" width="1" height="21" fill="#c0c0c0"/>
<rect x="1132" y="623" width="1" height="22" fill="#c0c0c0"/>
<rect x="1140" y="623" width="1" height="22" fill="#c0c0c0"/>
<rect x="1148" y="623" width="1" height="22" fill="#c0c0c0"/>
<rect x="1156" y="624" width="1" height="21" fill="#c0c0c0"/>
<rect x="1164" y="625" width="1" height="20" fill="#c0c0c0"/>
<rect x="1172" y="627" width="1" height="18" fill="#c0c0c0"/>
<rect x="1180" y="628" width="1" height="17" fill="#c0c0c0"/>
<rect x="1188" y="629" width="1" height="16" fill="#c0c0c0"/>
<rect x="1196" y="631" width="1" height="14" fill="#c0c0c0"/>
<rect x="1204" y="633" width="1" height="12" fill="#c0c0c0"/>
<rect x="1212" y="634" width="1" height="11" fill="#c0c0c0"/>
<rect x="1220" y="633" width="1" height="12" fill="#c0c0c0"/>
<rect x="1228" y="632" width="1" height="13" fill="#c0c0c0"/>
<rect x="1236" y="634" width="1" height="11" fill="#c0c0c0"/>
<rect x="1244" y="634" width="1" height="11" fill="#c0c0c0"/>
<rect x="1252" y="633" width="1" height="12" fill="#c0c0c0"/>
<rect x="1260" y="633" width="1" height="12" fill="#c0c0c0"/>
<rect x="1268" y="634" width="1" height="11" fill="#c0c0c0"/>
<rect x="1276" y="637" width="1" height="8" fill="#c0c0c0"/>
<rect x="1284" y="641" width="1" height="4" fill="#c0c0c0"/>
<rect x="1292" y="643" width="1" height="2" fill="#c0c0c0"/>
<rect x="1300" y="643" width="1" height="2" fill="#c0c0c0"/>
<rect x="1308" y="643" width="1" height="2" fill="#c0c0c0"/>
<rect x="1316" y="644" width="1" height="1" fill="#c0c0c0"/>
<rect x="1324" y="644" width="1" height="1" fill="#c0c0c0"/>
<rect x="1332" y="644" width="1" height="1" fill="#c0c0c0"/>
<rect x="1340" y="644" width="1" height="4" fill="#c0c0c0"/>
<rect x="1348" y="644" width="1" height="5" fill="#c0c0c0"/>
<rect x="1356" y="644" width="1" height="4" fill="#c0c0c0"/>
<rect x="1364" y="644" width="1" height="2" fill="#c0c0c0"/>
<polyline points="3.2,674.1 11.4,675.0 21.4,677.7 33.3,683.2 45.1,687.7 56.9,693.2 64.2,696.4 75.1,698.1 87.0,698.1 98.8,695.0 109.7,692.3 118.8,688.3 127.9,684.1 138.8,681.7 149.8,679.9 164.3,680.4 173.4,683.7 188.0,686.8 197.1,691.4 208.0,696.3 220.7,699.0 237.1,699.0 249.9,697.2 268.1,696.3 284.4,696.4 293.5,699.0 299.9,699.9 303.8,701.9 314.7,704.1 325.6,706.5 332.9,709.0 351.1,709.0 372.9,708.6 382.0,711.4 391.1,715.0 400.2,718.1 409.4,722.3 418.5,725.0 427.6,727.4 436.7,727.8 447.6,725.9 456.7,720.5 465.8,713.7 474.9,705.0 484.0,695.9 493.1,688.6 502.2,682.2 513.1,675.9 524.0,671.3 533.1,668.6 544.0,667.7 553.1,665.3 562.2,663.1 571.3,659.5 580.4,654.6 589.5,648.6 595.0,644.9 598.0,641.3 605.2,635.8 612.5,629.5 621.6,623.1 628.9,619.5 638.0,614.0 647.1,610.9 656.2,609.1 665.3,606.7 676.2,604.0 687.1,602.2 698.1,600.3 707.2,598.9 716.3,597.2 723.6,594.9 732.7,593.1 749.0,592.7 756.3,594.0 772.7,594.5 780.0,595.8 790.9,596.7 798.2,599.4 814.6,601.8 821.8,604.0 832.8,607.6 841.9,610.9 851.0,614.0 860.1,616.7 869.2,621.3 878.3,625.5 887.4,627.6 891.9,629.8 895.8,630.9 904.9,633.1 915.8,634.9 943.1,634.9 948.6,636.2 975.9,637.1 983.1,638.0 1021.4,638.0 1030.5,636.7 1046.9,634.9 1054.1,633.1 1077.8,632.7 1094.2,630.9 1099.6,629.8 1125.1,628.6 1143.3,626.7 1150.6,625.5 1187.9,624.9 1193.6,625.3 1208.2,627.1 1220.9,628.9 1233.6,630.7 1246.4,631.8 1257.3,632.7 1270.0,633.1 1281.0,634.4 1293.7,635.8 1304.6,637.1 1317.4,638.9 1330.1,640.9 1342.9,642.8 1348.3,644.9 1355.6,646.2 1362.0,645.8" fill="none" stroke="#ff0000" stroke-width="1" stroke-dasharray="3 3"/>
<line x1="3" y1="787.5" x2="1605" y2="787.5" stroke="#c0c0c0" stroke-width="1" stroke-dasharray="3 3"/>
<line x1="3" y1="838.5" x2="1605" y2="838.5" stroke="#c0c0c0" stroke-width="1" stroke-dasharray="3 3"/>
<line x1="3" y1="899.5" x2="1605" y2="899.5" stroke="#c0c0c0" stroke-width="1" stroke-dasharray="3 3"/>
<polyline points="0.5,868.5 4.5,875.5 12.5,890.4 20.5,873.3 28.5,879.9 36.5,873.8 44.5,874.8 52.5,864.1 60.5,852.9 68.5,849.5 76.5,839.5 84.5,861.8 92.5,840.9 100.5,845.6 108.5,847.9 116.5,845.6 124.5,847.5 132.5,849.5 140.5,857.6 148.5,859.0 156.5,869.8 164.5,865.1 172.5,871.0 180.5,864.7 188.5,862.8 196.5,869.8 204.5,867.9 212.5,850.8 220.5,842.8 228.5,850.8 236.5,848.5 244.5,857.6 252.5,859.0 260.5,865.3 268.5,869.8 276.5,873.8 284.5,873.8 292.5,865.1 300.5,861.3 308.5,862.8 316.5,871.7 324.5,872.9 332.5,858.0 340.5,858.0 348.5,860.9 356.5,865.1 364.5,874.2 372.5,876.5 380.5,888.9 388.5,879.5 396.5,880.9 404.5,881.8 412.5,862.8 420.5,847.0 428.5,851.7 436.5,849.8 444.5,847.5 452.5,836.1 460.5,835.7 468.5,825.1 476.5,843.7 484.5,847.0 492.5,845.1 500.5,845.1 508.5,851.7 516.5,847.9 524.5,849.8 532.5,841.8 540.5,843.7 548.5,838.6 556.5,825.1 564.5,816.7 572.5,820.9 580.5,820.9 588.5,819.9 596.5,814.1 604.5,811.7 612.5,826.6 620.5,819.0 628.5,826.6 636.5,827.9 644.5,823.2 652.5,828.9 660.5,816.1 668.5,810.8 676.5,819.0 684.5,818.0 692.5,821.8 700.5,820.5 708.5,816.1 716.5,809.8 724.5,819.0 732.5,829.5 740.5,825.6 748.5,819.0 756.5,822.8 764.5,824.1 772.5,826.0 780.5,825.1 788.5,827.9 796.5,822.8 804.5,824.7 812.5,828.5 820.5,832.7 828.5,832.9 836.5,838.6 844.5,836.7 852.5,845.1 860.5,841.8 868.5,841.8 876.5,837.6 884.5,836.7 892.5,832.1 900.5,829.8 908.5,825.3 916.5,824.1 924.5,829.8 932.5,831.0 940.5,836.1 948.5,850.8 956.5,846.0 964.5,847.0 972.5,837.6 980.5,816.7 988.5,823.7 996.5,822.8 1004.5,833.8 1012.5,836.7 1020.5,838.6 1028.5,823.2 1036.5,819.9 1044.5,820.9 1052.5,826.6 1060.5,830.8 1068.5,832.9 1076.5,831.0 1084.5,820.9 1092.5,819.0 1100.5,819.9 1108.5,814.8 1116.5,812.9 1124.5,811.9 1132.5,810.8 1140.5,817.6 1148.5,813.8 1156.5,819.9 1164.5,820.9 1172.5,830.8 1180.5,825.1 1188.5,830.4 1196.5,833.8 1204.5,831.0 1212.5,831.7 1220.5,818.0 1228.5,818.0 1236.5,833.8 1244.5,825.6 1252.5,821.8 1260.5,823.7 1268.5,830.4 1276.5,848.5 1284.5,857.6 1292.5,843.7 1300.5,838.0 1308.5,839.0 1316.5,841.8 1324.5,839.9 1332.5,846.6 1340.5,858.6 1348.5,852.9 1356.5,833.8 1364.5,833.8" fill="none" stroke="#1e90ff" stroke-width="1" />
<rect x="0" y="24" width="1606" height="1" fill="#000" />
<rect x="1605" y="24" width="1" height="902" fill="#000"/>
<rect x="0" y="577" width="1606" height="1" fill="#000" />
<rect x="0" y="579" width="1606" height="1" fill="#000" />
<rect x="0" y="749" width="1606" height="1" fill="#000" />
<rect x="0" y="751" width="1606" height="1" fill="#000" />
<rect x="0" y="925" width="1606" height="1" fill="#000" />
<rect x="1605" y="578" width="1" height="1" fill="#fff"/>
<rect x="1605" y="750" width="1" height="1" fill="#fff"/>
<polygon points="1373,25 1384,25 1378.5,30.5" fill="#c0c0c0"/>
<rect x="1606" y="46" width="2" height="1" fill="#000" />
<rect x="1606" y="79" width="2" height="1" fill="#000" />
<rect x="1606" y="111" width="2" height="1" fill="#000" />
<rect x="1606" y="145" width="2" height="1" fill="#000" />
<rect x="1606" y="178" width="2" height="1" fill="#000" />
<rect x="1606" y="211" width="2" height="1" fill="#000" />
<rect x="1606" y="244" width="2" height="1" fill="#000" />
<rect x="1606" y="277" width="2" height="1" fill="#000" />
<rect x="1606" y="310" width="2" height="1" fill="#000" />
<rect x="1606" y="344" width="2" height="1" fill="#000" />
<rect x="1606" y="376" width="2" height="1" fill="#000" />
<rect x="1606" y="409" width="2" height="1" fill="#000" />
<rect x="1606" y="442" width="2" height="1" fill="#000" />
<rect x="1606" y="475" width="2" height="1" fill="#000" />
<rect x="1606" y="509" width="2" height="1" fill="#000" />
<rect x="1606" y="541" width="2" height="1" fill="#000" />
<rect x="1606" y="574" width="2" height="1" fill="#000" />
<rect x="1606" y="644" width="2" height="1" fill="#000" />
<rect x="1606" y="581" width="1" height="1" fill="#000" />
<rect x="1606" y="748" width="1" height="1" fill="#000" />
<rect x="1606" y="753" width="1" height="1" fill="#000" />
<rect x="60" y="926" width="1" height="3" fill="#000"/>
<rect x="124" y="926" width="1" height="3" fill="#000"/>
<rect x="188" y="926" width="1" height="3" fill="#000"/>
<rect x="252" y="926" width="1" height="3" fill="#000"/>
<rect x="316" y="926" width="1" height="3" fill="#000"/>
<rect x="380" y="926" width="1" height="3" fill="#000"/>
<rect x="444" y="926" width="1" height="3" fill="#000"/>
<rect x="508" y="926" width="1" height="3" fill="#000"/>
<rect x="572" y="926" width="1" height="3" fill="#000"/>
<rect x="636" y="926" width="1" height="3" fill="#000"/>
<rect x="700" y="926" width="1" height="3" fill="#000"/>
<rect x="764" y="926" width="1" height="3" fill="#000"/>
<rect x="828" y="926" width="1" height="3" fill="#000"/>
<rect x="892" y="926" width="1" height="3" fill="#000"/>
<rect x="956" y="926" width="1" height="3" fill="#000"/>
<rect x="1020" y="926" width="1" height="3" fill="#000"/>
<rect x="1084" y="926" width="1" height="3" fill="#000"/>
<rect x="1148" y="926" width="1" height="3" fill="#000"/>
<rect x="1212" y="926" width="1" height="3" fill="#000"/>
<rect x="1276" y="926" width="1" height="3" fill="#000"/>
<rect x="1340" y="926" width="1" height="3" fill="#000"/>
<polygon points="0,35.6 6.2,35.6 3.1,30.8" fill="#000" shape-rendering="auto"/>
</svg>
<div class="ax" style="left:1611px;top:42px;">137.535</div>
<div class="ax" style="left:1611px;top:75px;">136.685</div>
<div class="ax" style="left:1611px;top:107px;">135.835</div>
<div class="ax" style="left:1611px;top:141px;">134.960</div>
<div class="ax" style="left:1611px;top:174px;">134.085</div>
<div class="ax" style="left:1611px;top:207px;">133.235</div>
<div class="ax" style="left:1611px;top:240px;">132.385</div>
<div class="ax" style="left:1611px;top:273px;">131.510</div>
<div class="ax" style="left:1611px;top:306px;">130.660</div>
<div class="ax" style="left:1611px;top:340px;">129.785</div>
<div class="ax" style="left:1611px;top:372px;">128.935</div>
<div class="ax" style="left:1611px;top:405px;">128.085</div>
<div class="ax" style="left:1611px;top:438px;">127.210</div>
<div class="ax" style="left:1611px;top:471px;">126.360</div>
<div class="ax" style="left:1611px;top:505px;">125.485</div>
<div class="ax" style="left:1611px;top:537px;">124.635</div>
<div class="ax" style="left:1611px;top:570px;">123.785</div>
<div class="ax" style="left:1609px;top:582px;">1.2293</div>
<div class="ax" style="left:1609px;top:640px;">0.00</div>
<div class="ax" style="left:1609px;top:738px;">-2.0003</div>
<div class="ax" style="left:1609px;top:754px;">100</div>
<div class="ax" style="left:1609px;top:783px;">80</div>
<div class="ax" style="left:1609px;top:834px;">50</div>
<div class="ax" style="left:1609px;top:895px;">15</div>
<div class="ax" style="left:1609px;top:914px;">0</div>
<div class="tag" style="top:91px;background:#ff0000"><span>136.197</span></div>
<div class="tag" style="top:106px;background:#ff0000"><span>135.807</span></div>
<div class="tag" style="top:125px;background:#32cd32"><span>135.312</span></div>
<div class="tag" style="top:146px;background:#000"><span>134.794</span></div>
<div class="tag" style="top:169px;background:#0000ff"><span>134.168</span></div>
<div class="tag" style="top:188px;background:#0000ff"><span>133.681</span></div>
<div class="ax tm" style="left:3px;top:930px;">Mar 2020</div>
<div class="ax tm" style="left:59px;top:930px;">10 Mar 00:00</div>
<div class="ax tm" style="left:123px;top:930px;">11 Mar 08:00</div>
<div class="ax tm" style="left:187px;top:930px;">12 Mar 16:00</div>
<div class="ax tm" style="left:251px;top:930px;">16 Mar 00:00</div>
<div class="ax tm" style="left:315px;top:930px;">17 Mar 08:00</div>
<div class="ax tm" style="left:379px;top:930px;">18 Mar 16:00</div>
<div class="ax tm" style="left:443px;top:930px;">20 Mar 00:00</div>
<div class="ax tm" style="left:507px;top:930px;">23 Mar 08:00</div>
<div class="ax tm" style="left:571px;top:930px;">24 Mar 16:00</div>
<div class="ax tm" style="left:635px;top:930px;">26 Mar 00:00</div>
<div class="ax tm" style="left:699px;top:930px;">27 Mar 08:00</div>
<div class="ax tm" style="left:763px;top:930px;">30 Mar 16:00</div>
<div class="ax tm" style="left:827px;top:930px;">1 Apr 00:00</div>
<div class="ax tm" style="left:891px;top:930px;">2 Apr 08:00</div>
<div class="ax tm" style="left:955px;top:930px;">3 Apr 16:00</div>
<div class="ax tm" style="left:1019px;top:930px;">7 Apr 00:00</div>
<div class="ax tm" style="left:1083px;top:930px;">8 Apr 08:00</div>
<div class="ax tm" style="left:1147px;top:930px;">9 Apr 16:00</div>
<div class="ax tm" style="left:1211px;top:930px;">13 Apr 20:00</div>
<div class="ax tm" style="left:1275px;top:930px;">15 Apr 04:00</div>
<div class="ax tm" style="left:1339px;top:930px;">16 Apr 12:00</div>
<div class="ax" style="left:11px;top:28px;">GBPJPY-,H4&nbsp; 134.857 134.878 134.792 134.794</div>
<div class="ax" style="left:0px;top:584px;">MACD(12,26,9) -0.0345 -0.0134</div>
<div class="ax" style="left:0px;top:756px;">RSI(14) 52.9449</div>
<div id="biglbl"><span>135.312</span></div>
<div id="cn">多空转折点</div>

<style>
#pn{position:absolute;left:0;top:42px;width:220px;height:67px;background:#fff}
#pn .red{position:absolute;background:linear-gradient(#f85050 0%,#e63535 30%,#cf1d1d 62%,#b80707 88%,#b30303 100%);box-sizing:border-box}
#pn .t{position:absolute;color:#fff;white-space:nowrap}
#pn .ul{position:absolute;height:1px}
#spin{position:absolute;left:53px;top:2px;width:111px;height:22px;box-sizing:border-box;border:1px solid #a7abb3;background:#fff}
#spin .b{position:absolute;top:1px;width:20px;height:18px;background:linear-gradient(#f4f4f4 0%,#e9e9e9 45%,#d6d6d6 50%,#cfcfcf 100%)}
#spin .s{position:absolute;top:0;width:1px;height:20px;background:#a7abb3}
</style>
<div id="pn">
<div class="red" style="left:0;top:2px;width:51px;height:64px;border-top:1px solid #c81818;border-right:1px solid #c41010"></div>
<div class="red" style="left:0;top:26px;width:108px;height:40px;background:linear-gradient(#e23030 0%,#cf1d1d 45%,#b80707 82%,#b30303 100%);border-top:1px solid #c01010;border-right:1px solid #a80505;border-bottom:1px solid #a00000"></div>
<div class="red" style="left:166px;top:2px;width:52px;height:64px;border-top:1px solid #c81818;border-left:1px solid #c41010;border-right:1px solid #b00808"></div>
<div class="red" style="left:110px;top:26px;width:108px;height:40px;background:linear-gradient(#e23030 0%,#cf1d1d 45%,#b80707 82%,#b30303 100%);border-top:1px solid #c01010;border-left:1px solid #c41010;border-right:1px solid #a80505;border-bottom:1px solid #a00000"></div>
<div style="position:absolute;left:0;top:26px;width:50px;height:1px;background:#e33232"></div>
<div style="position:absolute;left:167px;top:26px;width:50px;height:1px;background:#e33232"></div>
<div class="ul" style="left:3px;top:25px;width:44px;background:#a00808"></div>
<div class="ul" style="left:3px;top:26px;width:44px;background:#f26464"></div>
<div class="ul" style="left:170px;top:25px;width:44px;background:#a00808"></div>
<div class="ul" style="left:170px;top:26px;width:44px;background:#f26464"></div>
<div class="t" style="left:10.6px;top:7px;font-size:11.7px;line-height:14px;letter-spacing:-0.3px">SELL</div>
<div class="t" style="left:179.3px;top:7px;font-size:11.7px;line-height:14px;letter-spacing:-0.3px">BUY</div>
<div class="t" style="left:21.6px;top:47px;font-size:11.5px;line-height:12px;font-weight:bold;letter-spacing:1px">134</div>
<div class="t" style="left:45.2px;top:27px;font-size:33.5px;line-height:37px;letter-spacing:0px">79</div>
<div class="t" style="left:86px;top:31.5px;font-size:12px;line-height:12px;font-weight:bold">4</div>
<div class="t" style="left:131.6px;top:47px;font-size:11.5px;line-height:12px;font-weight:bold;letter-spacing:1px">134</div>
<div class="t" style="left:156.2px;top:27px;font-size:33.5px;line-height:37px;letter-spacing:0px">86</div>
<div class="t" style="left:196.2px;top:31.5px;font-size:12px;line-height:12px;font-weight:bold">7</div>
<div id="spin"><div class="b" style="left:0"></div><div class="s" style="left:20px"></div><div class="b" style="left:89px"></div><div class="s" style="left:88px"></div><svg style="position:absolute;left:7px;top:7px" width="7" height="5"><polygon points="0.5,0.5 6.5,0.5 3.5,4" fill="#4f62c0"/></svg><svg style="position:absolute;left:95px;top:7px" width="7" height="5"><polygon points="0.5,4.5 6.5,4.5 3.5,1" fill="#4f62c0"/></svg><div style="position:absolute;right:24px;top:3px;font-size:11.6px;line-height:14px;color:#000">1.00</div></div>
</div>
<svg id="tb" width="1652" height="24" viewBox="0 0 1652 24" style="position:absolute;left:0;top:0" font-family="'Liberation Sans','Noto Sans CJK SC',sans-serif">
<defs><linearGradient id="gold" x1="0" y1="0" x2="1" y2="1"><stop offset="0" stop-color="#ffe97a"/><stop offset="0.55" stop-color="#e8b820"/><stop offset="1" stop-color="#b07808"/></linearGradient><linearGradient id="blu" x1="0" y1="0" x2="0" y2="1"><stop offset="0" stop-color="#8fd0ff"/><stop offset="1" stop-color="#1f78e0"/></linearGradient><linearGradient id="grn" x1="0" y1="0" x2="0" y2="1"><stop offset="0" stop-color="#7fe070"/><stop offset="1" stop-color="#18a010"/></linearGradient><radialGradient id="lens" cx="0.4" cy="0.35" r="0.7"><stop offset="0" stop-color="#ffffff"/><stop offset="1" stop-color="#a8d4f8"/></radialGradient><pattern id="chk" width="2" height="2" patternUnits="userSpaceOnUse"><rect width="2" height="2" fill="#f7f7f7"/><rect width="1" height="1" fill="#ececec"/><rect x="1" y="1" width="1" height="1" fill="#ececec"/></pattern></defs>
<rect x="0" y="0" width="1652" height="20" fill="#f0f0f0" shape-rendering="crispEdges"/>
<rect x="0" y="19" width="1652" height="1" fill="#f7f7f7" shape-rendering="crispEdges"/>
<rect x="0" y="20" width="1652" height="1" fill="#a0a0a0" shape-rendering="crispEdges"/>
<rect x="0" y="21" width="1652" height="1" fill="#696969" shape-rendering="crispEdges"/>
<rect x="0" y="22" width="1652" height="2" fill="#ffffff" shape-rendering="crispEdges"/>
<text x="-4.4" y="11.3" font-size="12" font-weight="500" fill="#000">新订单</text>
<g><path d="M49,1 L58.6,8.5 L58.9,10.3 L51.3,16.6 L50.4,16.6 L43.1,10 Z" fill="#b87a10"/><path d="M49,1.2 L58.3,8.5 L51,15.3 L43.4,9.7 Z" fill="url(#gold)" stroke="#a86c0c" stroke-width="0.7" stroke-linejoin="round"/><path d="M44.6,9.9 L50.9,14.3 L57.2,8.6" fill="none" stroke="#fff0a0" stroke-width="0.9" opacity="0.75"/><path d="M48.9,2.6 L46.2,8.2" fill="none" stroke="#fff6b8" stroke-width="1.1" opacity="0.7"/></g>
<g><path d="M73,0 h10.8 v9.5 h-10.8 z" fill="#1686f0"/><path d="M73,0 h3.2 v9.5 h-3.2 z" fill="#46aaff"/><path d="M76.2,0 l1.2,1.6 v8 h-1.2 z" fill="#0a66d0"/><rect x="78.3" y="4.2" width="4.8" height="1.5" fill="#e8f4ff"/><rect x="78.3" y="6.6" width="4.8" height="0.8" fill="#8cc8ff"/><path d="M74.2,15.6 a2.7,2.7 0 0 1 -0.3,-5.3 a3.4,2.9 0 0 1 6.3,-0.5 a3,2.7 0 0 1 4.4,1.5 a2.2,2.2 0 0 1 -0.3,4.3 z" fill="#eef2fa" stroke="#4f68a4" stroke-width="1"/><path d="M73.2,13.6 q6,1.6 12.6,0 l-0.6,1.4 h-11.2 z" fill="#c4d0e6"/></g>
<g fill="none"><circle cx="107" cy="7.8" r="7.3" stroke="#9db6e6" stroke-width="1.1" stroke-dasharray="15 4"/><circle cx="107" cy="7.8" r="4.8" stroke="#5f86dc" stroke-width="1.2"/><path d="M107.4,7.8 L107.4,15.6 A7.8,7.8 0 0 0 113.6,3.6 Z" fill="#8cc88a" opacity="0.75"/><path d="M107.4,12 A4.4,4.4 0 0 0 110.8,5.4" stroke="#4aa04a" stroke-width="1"/><circle cx="107" cy="7.6" r="2.1" fill="#2b5ccc"/><path d="M107.5,8 v7.6" stroke="#1ea01e" stroke-width="1.5"/></g>
<g><path d="M128,7 h13 l-3,7.5 l-4,2 l-5,-4 z" fill="#ffd84a" stroke="#d8a010" stroke-width="0.6"/><ellipse cx="134.5" cy="5.5" rx="8" ry="2.6" fill="#5aa4e6" stroke="#2f78c8" stroke-width="0.6"/><path d="M130.5,5 a4,4.6 0 0 1 8,0 z" fill="#6fb6f0" stroke="#2f78c8" stroke-width="0.6"/><circle cx="139" cy="12.5" r="4" fill="#d81c10" stroke="#a80c04" stroke-width="0.6"/><rect x="137.3" y="10.8" width="3.4" height="3.4" fill="#fff"/></g>
<text x="147.3" y="11.3" font-size="12" font-weight="500" fill="#000">自动交易</text>
<rect x="202" y="0" width="1" height="20" fill="#a0a0a0" shape-rendering="crispEdges"/>
<rect x="203" y="0" width="1" height="20" fill="#ffffff" shape-rendering="crispEdges"/>
<rect x="206" y="0" width="3" height="1" fill="#b4b4b4" shape-rendering="crispEdges"/>
<rect x="206" y="2" width="3" height="1" fill="#b4b4b4" shape-rendering="crispEdges"/>
<rect x="206" y="4" width="3" height="1" fill="#b4b4b4" shape-rendering="crispEdges"/>
<rect x="206" y="6" width="3" height="1" fill="#b4b4b4" shape-rendering="crispEdges"/>
<rect x="206" y="8" width="3" height="1" fill="#b4b4b4" shape-rendering="crispEdges"/>
<rect x="206" y="10" width="3" height="1" fill="#b4b4b4" shape-rendering="crispEdges"/>
<rect x="206" y="12" width="3" height="1" fill="#b4b4b4" shape-rendering="crispEdges"/>
<rect x="206" y="14" width="3" height="1" fill="#b4b4b4" shape-rendering="crispEdges"/>
<rect x="206" y="16" width="3" height="1" fill="#b4b4b4" shape-rendering="crispEdges"/>
<g fill="#555" shape-rendering="crispEdges"><rect x="220" y="2" width="1" height="14"/><rect x="219" y="3" width="3" height="1"/><rect x="218" y="13" width="14" height="1"/><rect x="230" y="12" width="1" height="3"/></g>
<g fill="#0a860a" shape-rendering="crispEdges"><rect x="226" y="3" width="1" height="9"/><rect x="227" y="4" width="2" height="1"/><rect x="224" y="10" width="2" height="1"/></g>
<rect x="241" y="0" width="24" height="18" fill="url(#chk)" shape-rendering="crispEdges"/>
<rect x="240" y="0" width="1" height="18" fill="#a0a0a0" shape-rendering="crispEdges"/>
<g fill="#555" shape-rendering="crispEdges"><rect x="248" y="2" width="1" height="14"/><rect x="247" y="3" width="3" height="1"/><rect x="246" y="13" width="14" height="1"/><rect x="258" y="12" width="1" height="3"/></g>
<rect x="254" y="0" width="1" height="12" fill="#1a7a1a" shape-rendering="crispEdges"/><rect x="252" y="3" width="5" height="7" fill="#22c022" stroke="#1a7a1a" stroke-width="0.8"/>
<g fill="#555" shape-rendering="crispEdges"><rect x="276" y="2" width="1" height="14"/><rect x="275" y="3" width="3" height="1"/><rect x="274" y="13" width="14" height="1"/><rect x="286" y="12" width="1" height="3"/></g>
<path d="M277,11 q4,-9 7,-6 t5,5" stroke="#1e8a1e" stroke-width="1.3" fill="none"/>
<rect x="297" y="0" width="1" height="20" fill="#a0a0a0" shape-rendering="crispEdges"/>
<rect x="298" y="0" width="1" height="20" fill="#ffffff" shape-rendering="crispEdges"/>
<line x1="316.5" y1="9.5" x2="320.7" y2="14.2" stroke="#c8a018" stroke-width="2.6" stroke-linecap="round"/>
<line x1="316.5" y1="9.5" x2="320.7" y2="14.2" stroke="#f0d878" stroke-width="0.9"/>
<circle cx="312.3" cy="5.4" r="5.6" fill="url(#lens)" stroke="#3f86d8" stroke-width="1.3"/>
<rect x="309.3" y="4.6" width="6" height="1.7" fill="#2f78d0"/>
<rect x="311.45" y="2.4" width="1.7" height="6" fill="#2f78d0"/>
<line x1="344.3" y1="9.5" x2="348.5" y2="14.2" stroke="#c8a018" stroke-width="2.6" stroke-linecap="round"/>
<line x1="344.3" y1="9.5" x2="348.5" y2="14.2" stroke="#f0d878" stroke-width="0.9"/>
<circle cx="340.1" cy="5.4" r="5.6" fill="url(#lens)" stroke="#3f86d8" stroke-width="1.3"/>
<rect x="337.1" y="4.6" width="6" height="1.7" fill="#2f78d0"/>
<rect x="362.0" y="0.0" width="7.5" height="7.3" fill="#2c9820"/>
<rect x="363.0" y="3.0" width="5.5" height="3.4" fill="#eef6ff"/>
<rect x="364.0" y="4.2" width="3.5" height="1" fill="#2c9820"/>
<rect x="370.5" y="0.0" width="7.5" height="7.3" fill="#1c5cd0"/>
<rect x="371.5" y="3.0" width="5.5" height="3.4" fill="#eef6ff"/>
<rect x="372.5" y="4.2" width="3.5" height="1" fill="#1c5cd0"/>
<rect x="362.0" y="8.0" width="7.5" height="7.3" fill="#1c5cd0"/>
<rect x="363.0" y="11.0" width="5.5" height="3.4" fill="#eef6ff"/>
<rect x="364.0" y="12.2" width="3.5" height="1" fill="#1c5cd0"/>
<rect x="370.5" y="8.0" width="7.5" height="7.3" fill="#2c9820"/>
<rect x="371.5" y="11.0" width="5.5" height="3.4" fill="#eef6ff"/>
<rect x="372.5" y="12.2" width="3.5" height="1" fill="#2c9820"/>
<rect x="387" y="0" width="1" height="20" fill="#a0a0a0" shape-rendering="crispEdges"/>
<rect x="388" y="0" width="1" height="20" fill="#ffffff" shape-rendering="crispEdges"/>
<rect x="393" y="0" width="23" height="18" fill="url(#chk)" shape-rendering="crispEdges"/>
<rect x="392" y="0" width="1" height="18" fill="#a0a0a0" shape-rendering="crispEdges"/>
<g fill="#555" shape-rendering="crispEdges"><rect x="400" y="2" width="1" height="14"/><rect x="399" y="3" width="3" height="1"/><rect x="398" y="13" width="14" height="1"/><rect x="410" y="12" width="1" height="3"/></g>
<polygon points="405,4 405,11 409.5,7.5" fill="#22b422" stroke="#1a8a1a" stroke-width="0.6"/>
<rect x="421" y="0" width="24" height="18" fill="url(#chk)" shape-rendering="crispEdges"/>
<rect x="420" y="0" width="1" height="18" fill="#a0a0a0" shape-rendering="crispEdges"/>
<g fill="#555" shape-rendering="crispEdges"><rect x="428" y="2" width="1" height="14"/><rect x="427" y="3" width="3" height="1"/><rect x="426" y="13" width="14" height="1"/><rect x="438" y="12" width="1" height="3"/></g>
<rect x="434" y="2" width="1" height="10" fill="#1c6ab0" shape-rendering="crispEdges"/>
<path d="M440,7.5 h-4 M438,5.5 l-2.2,2 l2.2,2" stroke="#d03010" stroke-width="1.2" fill="none"/>
<rect x="449" y="0" width="1" height="20" fill="#a0a0a0" shape-rendering="crispEdges"/>
<rect x="450" y="0" width="1" height="20" fill="#ffffff" shape-rendering="crispEdges"/>
<path d="M459.5,1.5 h7 l3,3 v9 h-10 z" fill="#fdfdfd" stroke="#9a9a9a" stroke-width="0.8"/><text x="461" y="9" font-size="7" fill="#666" font-style="italic">f</text>
<path d="M467,6.5 h3.6 v3.6 h3.9 v3.6 h-3.9 v3.6 h-3.6 v-3.6 h-3.9 v-3.6 h3.9 z" fill="#22c422" stroke="#0f8a0f" stroke-width="0.7"/>
<polygon points="481,7 486,7 483.5,10" fill="#000"/>
<circle cx="505" cy="7.8" r="7.2" fill="#2868c8" stroke="#1c4ea0" stroke-width="0.8"/><circle cx="505" cy="7.8" r="5" fill="#f8fbff"/><path d="M505,4.5 v3.5 h2.6" stroke="#333" stroke-width="1" fill="none"/>
<polygon points="520,7 525,7 522.5,10" fill="#000"/>
<rect x="536.5" y="1.5" width="15" height="13" fill="#fff" stroke="#2f6fd0" stroke-width="1"/><rect x="537" y="2" width="14" height="2" fill="#5b9be8"/><rect x="537" y="8" width="14" height="1" fill="#9cc0f0"/><path d="M538.5,7 l3,-1.5 l3,0.7 l3,-1.8 l2.5,0.5" stroke="#c02010" stroke-width="1.1" fill="none"/><path d="M538.5,12.5 l3,-1.2 l2.5,0.8 l2.5,-2 l3,2.2" stroke="#1a9a1a" stroke-width="1.1" fill="none"/>
<polygon points="559,7 564,7 561.5,10" fill="#000"/>
<rect x="570" y="0" width="1" height="20" fill="#a0a0a0" shape-rendering="crispEdges"/>
<rect x="571" y="0" width="1" height="20" fill="#ffffff" shape-rendering="crispEdges"/>
<rect x="574" y="0" width="3" height="1" fill="#b4b4b4" shape-rendering="crispEdges"/>
<rect x="574" y="2" width="3" height="1" fill="#b4b4b4" shape-rendering="crispEdges"/>
<rect x="574" y="4" width="3" height="1" fill="#b4b4b4" shape-rendering="crispEdges"/>
<rect x="574" y="6" width="3" height="1" fill="#b4b4b4" shape-rendering="crispEdges"/>
<rect x="574" y="8" width="3" height="1" fill="#b4b4b4" shape-rendering="crispEdges"/>
<rect x="574" y="10" width="3" height="1" fill="#b4b4b4" shape-rendering="crispEdges"/>
<rect x="574" y="12" width="3" height="1" fill="#b4b4b4" shape-rendering="crispEdges"/>
<rect x="574" y="14" width="3" height="1" fill="#b4b4b4" shape-rendering="crispEdges"/>
<rect x="574" y="16" width="3" height="1" fill="#b4b4b4" shape-rendering="crispEdges"/>
<rect x="581" y="0" width="24" height="18" fill="url(#chk)" shape-rendering="crispEdges"/>
<rect x="580" y="0" width="1" height="18" fill="#a0a0a0" shape-rendering="crispEdges"/>
<path d="M588.5,1 v12.2 l3,-2.8 l2.1,4.8 l1.9,-0.9 l-2.1,-4.6 h4 z" fill="#444"/>
<g fill="#444" shape-rendering="crispEdges"><rect x="620" y="1" width="1" height="6"/><rect x="620" y="10" width="1" height="6"/><rect x="613" y="8" width="6" height="1"/><rect x="622" y="8" width="6" height="1"/></g>
<rect x="637" y="0" width="1" height="20" fill="#a0a0a0" shape-rendering="crispEdges"/>
<rect x="638" y="0" width="1" height="20" fill="#ffffff" shape-rendering="crispEdges"/>
<rect x="654" y="2" width="1" height="13" fill="#444" shape-rendering="crispEdges"/>
<rect x="677" y="8" width="12" height="1" fill="#444" shape-rendering="crispEdges"/>
<line x1="704.6" y1="14.7" x2="717" y2="2.7" stroke="#555" stroke-width="1.1"/>
<g stroke="#555" stroke-width="1" fill="none"><line x1="731" y1="9.5" x2="743" y2="0.5"/><line x1="732.5" y1="14" x2="745" y2="4.5"/><line x1="734" y1="7" x2="734" y2="13"/><line x1="737" y1="5" x2="737" y2="11"/><line x1="740" y1="3" x2="740" y2="9"/></g><text x="741.3" y="17" font-size="7" font-weight="bold" fill="#333">E</text>
<line x1="760" y1="1.5" x2="773" y2="1.5" stroke="#555" stroke-width="1" stroke-dasharray="1 1" shape-rendering="crispEdges"/>
<line x1="760" y1="4.5" x2="773" y2="4.5" stroke="#555" stroke-width="1" stroke-dasharray="1 1" shape-rendering="crispEdges"/>
<line x1="760" y1="8.5" x2="773" y2="8.5" stroke="#555" stroke-width="1" stroke-dasharray="1 1" shape-rendering="crispEdges"/>
<line x1="760" y1="12.5" x2="769" y2="12.5" stroke="#555" stroke-width="1" stroke-dasharray="1 1" shape-rendering="crispEdges"/>
<text x="769.3" y="17" font-size="7" font-weight="bold" fill="#333">F</text>
<text x="790" y="13" font-size="12.5" fill="#4a4a4a" stroke="#4a4a4a" stroke-width="0.3">A</text>
<rect x="817.5" y="2.5" width="11" height="12" fill="none" stroke="#555" stroke-width="1" stroke-dasharray="1 1" shape-rendering="crispEdges"/><text x="819.2" y="12.8" font-size="11.5" fill="#4a4a4a" stroke="#4a4a4a" stroke-width="0.4">T</text>
<g fill="#444"><polygon points="844,5 847.5,1.5 851,5 847.5,7"/><polygon points="851,11 858,11 854.5,14.8"/><path d="M846,9 l2,2 l4,-5" stroke="#444" stroke-width="1.3" fill="none"/><polygon points="852,9 855,7 857,10"/></g>
<polygon points="865,7 870,7 867.5,10" fill="#000"/>
<rect x="876" y="0" width="1" height="20" fill="#a0a0a0" shape-rendering="crispEdges"/>
<rect x="877" y="0" width="1" height="20" fill="#ffffff" shape-rendering="crispEdges"/>
<rect x="880" y="0" width="3" height="1" fill="#b4b4b4" shape-rendering="crispEdges"/>
<rect x="880" y="2" width="3" height="1" fill="#b4b4b4" shape-rendering="crispEdges"/>
<rect x="880" y="4" width="3" height="1" fill="#b4b4b4" shape-rendering="crispEdges"/>
<rect x="880" y="6" width="3" height="1" fill="#b4b4b4" shape-rendering="crispEdges"/>
<rect x="880" y="8" width="3" height="1" fill="#b4b4b4" shape-rendering="crispEdges"/>
<rect x="880" y="10" width="3" height="1" fill="#b4b4b4" shape-rendering="crispEdges"/>
<rect x="880" y="12" width="3" height="1" fill="#b4b4b4" shape-rendering="crispEdges"/>
<rect x="880" y="14" width="3" height="1" fill="#b4b4b4" shape-rendering="crispEdges"/>
<rect x="880" y="16" width="3" height="1" fill="#b4b4b4" shape-rendering="crispEdges"/>
<rect x="1027" y="0" width="24" height="18" fill="url(#chk)" shape-rendering="crispEdges"/>
<rect x="1026" y="0" width="1" height="18" fill="#a0a0a0" shape-rendering="crispEdges"/>
<text x="891.5" y="12" font-size="9.8" fill="#3c3c3c" stroke="#3c3c3c" stroke-width="0.15" letter-spacing="-0.2" text-rendering="geometricPrecision">M1</text>
<text x="919.6" y="12" font-size="9.8" fill="#3c3c3c" stroke="#3c3c3c" stroke-width="0.15" letter-spacing="-0.2" text-rendering="geometricPrecision">M5</text>
<text x="945.4" y="12" font-size="9.8" fill="#3c3c3c" stroke="#3c3c3c" stroke-width="0.15" letter-spacing="-0.2" text-rendering="geometricPrecision">M15</text>
<text x="973.8" y="12" font-size="9.8" fill="#3c3c3c" stroke="#3c3c3c" stroke-width="0.15" letter-spacing="-0.2" text-rendering="geometricPrecision">M30</text>
<text x="1004.4" y="12" font-size="9.8" fill="#3c3c3c" stroke="#3c3c3c" stroke-width="0.15" letter-spacing="-0.2" text-rendering="geometricPrecision">H1</text>
<text x="1031.7" y="12" font-size="9.8" fill="#3c3c3c" stroke="#3c3c3c" stroke-width="0.15" letter-spacing="-0.2" text-rendering="geometricPrecision">H4</text>
<text x="1060.3" y="12" font-size="9.8" fill="#3c3c3c" stroke="#3c3c3c" stroke-width="0.15" letter-spacing="-0.2" text-rendering="geometricPrecision">D1</text>
<text x="1088.3" y="12" font-size="9.8" fill="#3c3c3c" stroke="#3c3c3c" stroke-width="0.15" letter-spacing="-0.2" text-rendering="geometricPrecision">W1</text>
<text x="1114.6" y="12" font-size="9.8" fill="#3c3c3c" stroke="#3c3c3c" stroke-width="0.15" letter-spacing="-0.2" text-rendering="geometricPrecision">MN</text>
<rect x="1137" y="0" width="1" height="20" fill="#a0a0a0" shape-rendering="crispEdges"/>
<rect x="1138" y="0" width="1" height="20" fill="#ffffff" shape-rendering="crispEdges"/>
<line x1="1600.2" y1="12.8" x2="1604.6" y2="8.6" stroke="#2458d4" stroke-width="2.4" stroke-linecap="round"/><circle cx="1607.6" cy="5.4" r="3.9" fill="#f6f8ff" stroke="#2a5cd8" stroke-width="1.3"/>
<path d="M1644.6,8.6 l-0.4,3 l-2.6,-2.4 z" fill="#f4f4f4" stroke="#8c8c8c" stroke-width="0.8"/><ellipse cx="1640.1" cy="5.1" rx="6.6" ry="4.4" fill="#f6f6f8" stroke="#8c8c8c" stroke-width="0.9"/><path d="M1629.8,12 l-1,2.6 l3,-1.8 z" fill="#f4f4f4" stroke="#8c8c8c" stroke-width="0.8"/><ellipse cx="1631.3" cy="9.2" rx="5.1" ry="3.6" fill="#fbfbfd" stroke="#8c8c8c" stroke-width="0.9"/><ellipse cx="1631.6" cy="10.2" rx="3.4" ry="1.6" fill="#dcdce4" opacity="0.7"/>
</svg>
<div id="rb"></div>
</body></html>
